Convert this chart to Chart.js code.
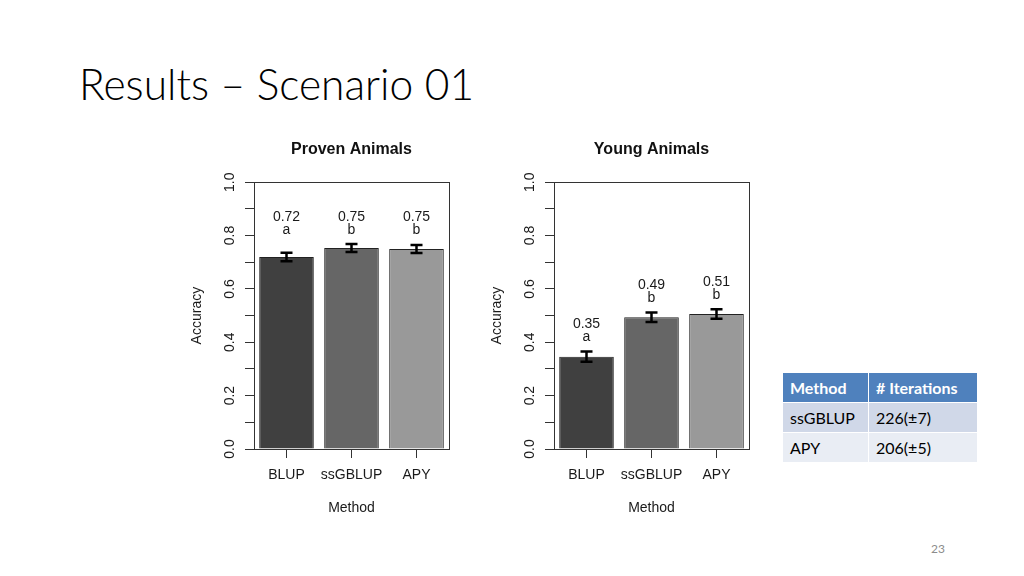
<!DOCTYPE html>
<html>
<head>
<meta charset="utf-8">
<script src="https://cdn.jsdelivr.net/npm/chart.js@4"></script>
<style>
  html, body { margin: 0; padding: 0; background: #fff; }
  body { width: 1024px; height: 576px; position: relative; overflow: hidden; }
  h1 {
    position: absolute; left: 79px; top: 58px; margin: 0;
    font-family: 'Lato', sans-serif; font-weight: 300; font-size: 42.5px;
    color: #000; white-space: nowrap;
  }
  .plot { position: absolute; top: 130px; width: 290px; height: 400px; }
  #provenBox { left: 180px; }
  #youngBox { left: 480px; }
  table.iters {
    position: absolute; left: 782px; top: 372px; border-collapse: collapse;
    font-family: 'Lato', sans-serif; font-size: 16px;
  }
  table.iters td, table.iters th {
    height: 29px; padding: 0 0 0 7px; text-align: left; border: 1.5px solid #fff;
  }
  table.iters th { background: #4f81bd; color: #fff; font-weight: bold; }
  table.iters tr.r1 td { background: #d0d8e8; }
  table.iters tr.r2 td { background: #e9edf4; }
  .pageno {
    position: absolute; left: 931px; top: 541px;
    font-family: 'Lato', sans-serif; font-size: 12px; color: #8c8c8c;
  }
</style>
</head>
<body>
<h1>Results – Scenario 01</h1>
<div class="plot" id="provenBox"><canvas id="provenChart"></canvas></div>
<div class="plot" id="youngBox"><canvas id="youngChart"></canvas></div>
<table class="iters">
  <tr><th style="width:78px">Method</th><th style="width:101px"># Iterations</th></tr>
  <tr class="r1"><td>ssGBLUP</td><td>226(±7)</td></tr>
  <tr class="r2"><td>APY</td><td>206(±5)</td></tr>
</table>
<div class="pageno">23</div>

<script>
// data
const methods = ['BLUP', 'ssGBLUP', 'APY'];
const yTickLabels = ['0.0', '0.2', '0.4', '0.6', '0.8', '1.0'];

const provenAcc = [0.720, 0.753, 0.750];
const provenSE = [0.016, 0.015, 0.015];
const provenText = ['0.72', '0.75', '0.75'];
const provenLetters = ['a', 'b', 'b'];

const youngAcc = [0.346, 0.494, 0.506];
const youngSE = [0.019, 0.018, 0.018];
const youngText = ['0.35', '0.49', '0.51'];
const youngLetters = ['a', 'b', 'b'];

const FONT = "'Liberation Sans', Arial, sans-serif";
const INK = '#1a1a1a';

// box around the plot region, like R's box()
const framePlugin = {
    id: 'frame',
    afterDraw(chart) {
        const a = chart.chartArea, ctx = chart.ctx;
        ctx.save();
        ctx.strokeStyle = '#333';
        ctx.lineWidth = 1;
        ctx.strokeRect(Math.round(a.left) + 0.5, Math.round(a.top) + 0.5,
            Math.round(a.right - a.left), Math.round(a.bottom - a.top));
        ctx.restore();
    }
};

// rotated y tick labels (R draws them parallel to the axis)
const yLabelPlugin = {
    id: 'yLabels',
    afterDraw(chart) {
        const y = chart.scales.y, ctx = chart.ctx;
        ctx.save();
        ctx.font = '14px ' + FONT;
        ctx.fillStyle = INK;
        ctx.textAlign = 'center';
        ctx.textBaseline = 'middle';
        yTickLabels.forEach(lab => {
            const py = y.getPixelForValue(parseFloat(lab));
            ctx.save();
            ctx.translate(y.right - 24, py);
            ctx.rotate(-Math.PI / 2);
            ctx.fillText(lab, 0, 0);
            ctx.restore();
        });
        ctx.restore();
    }
};

// error bars + mean / letter annotations
const errorPlugin = {
    id: 'errorBars',
    afterDatasetsDraw(chart, args, opts) {
        const ctx = chart.ctx, y = chart.scales.y;
        const meta = chart.getDatasetMeta(0);
        const vals = chart.data.datasets[0].data;
        const tops = vals.map((v, i) => y.getPixelForValue(v + opts.se[i]));
        const common = Math.min(...tops);
        ctx.save();
        ctx.strokeStyle = '#000';
        ctx.lineWidth = 2.5;
        meta.data.forEach((bar, i) => {
            const x = bar.x;
            const lo = y.getPixelForValue(vals[i] - opts.se[i]);
            const hi = tops[i];
            ctx.beginPath();
            ctx.moveTo(x, lo); ctx.lineTo(x, hi);
            ctx.moveTo(x - 6, lo); ctx.lineTo(x + 6, lo);
            ctx.moveTo(x - 6, hi); ctx.lineTo(x + 6, hi);
            ctx.stroke();
        });
        ctx.font = '14px ' + FONT;
        ctx.fillStyle = INK;
        ctx.textAlign = 'center';
        ctx.textBaseline = 'middle';
        meta.data.forEach((bar, i) => {
            const base = opts.aligned ? common : tops[i];
            ctx.fillText(opts.letters[i], bar.x, base - 14);
            ctx.fillText(opts.text[i], bar.x, base - 27);
        });
        ctx.restore();
    }
};

function makeChart(id, title, values, se, text, letters, aligned) {
    const ctx = document.getElementById(id).getContext('2d');
    return new Chart(ctx, {
        type: 'bar',
        data: {
            labels: methods,
            datasets: [{
                data: values,
                backgroundColor: ['#404040', '#666666', '#999999'],
                borderColor: '#222',
                borderWidth: 1,
                categoryPercentage: 0.84,
                barPercentage: 1.0
            }]
        },
        plugins: [framePlugin, yLabelPlugin, errorPlugin],
        options: {
            responsive: true,
            maintainAspectRatio: false,
            animation: false,
            layout: { padding: { left: 0, right: 21, top: 0, bottom: 0 } },
            plugins: {
                legend: { display: false },
                tooltip: { enabled: false },
                title: {
                    display: true,
                    text: title,
                    fullSize: false,
                    color: '#111',
                    font: { family: FONT, size: 16, weight: 'bold' },
                    padding: { top: 10, bottom: 23 }
                },
                errorBars: { se: se, text: text, letters: letters, aligned: aligned }
            },
            scales: {
                y: {
                    min: 0,
                    max: 1,
                    afterFit(scale) { scale.width = 74; },
                    ticks: { stepSize: 0.1, display: false },
                    grid: { drawOnChartArea: false, drawTicks: true, tickLength: 9, color: '#333' },
                    border: { display: false },
                    title: {
                        display: true,
                        text: 'Accuracy',
                        color: INK,
                        font: { family: FONT, size: 14 },
                        padding: { top: 9 }
                    }
                },
                x: {
                    afterFit(scale) { scale.height = 81; },
                    ticks: {
                        color: INK, padding: 9, autoSkip: false, minRotation: 0, maxRotation: 0,
                        font: { family: FONT, size: 14 }
                    },
                    grid: { offset: false, drawOnChartArea: false, drawTicks: true, tickLength: 9, color: '#333' },
                    border: { display: false },
                    title: {
                        display: true,
                        text: 'Method',
                        color: INK,
                        font: { family: FONT, size: 14 },
                        padding: { bottom: 13 }
                    }
                }
            }
        }
    });
}

makeChart('provenChart', 'Proven Animals', provenAcc, provenSE, provenText, provenLetters, true);
makeChart('youngChart', 'Young Animals', youngAcc, youngSE, youngText, youngLetters, false);
</script>
</body>
</html>
